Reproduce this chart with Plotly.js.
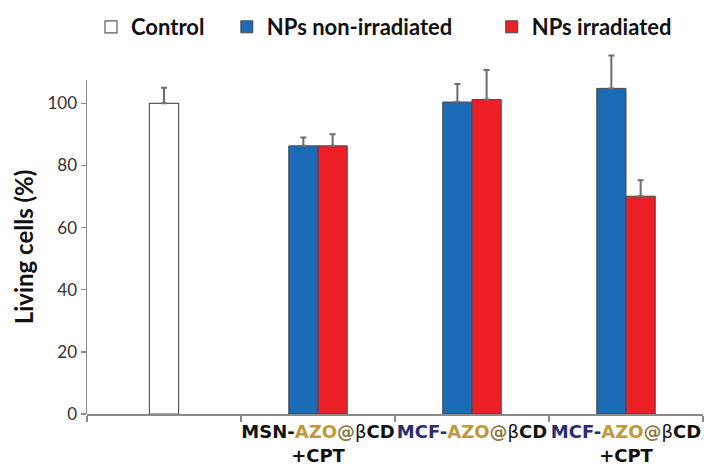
<!DOCTYPE html>
<html>
<head>
<meta charset="utf-8">
<script src="https://cdn.plot.ly/plotly-3.0.1.min.js"></script>
<style>html,body{margin:0;padding:0;background:#fff;}#chart{width:720px;height:468px;}</style>
</head>
<body>
<div id="chart"></div>
<script>
const categories = ['Control', 'MSN-AZO@βCD +CPT', 'MCF-AZO@βCD', 'MCF-AZO@βCD +CPT'];
const tickLabels = [
  '',
  '<b>MSN-<span style="color:#c09a3a">AZO</span><span style="color:#8c7a45">@</span></b>β<b>CD</b><br><b>+CPT</b>',
  '<b><span style="color:#2b2d6e">MCF-</span><span style="color:#c09a3a">AZO</span><span style="color:#8c7a45">@</span></b>β<b>CD</b>',
  '<b><span style="color:#2b2d6e">MCF-</span><span style="color:#c09a3a">AZO</span><span style="color:#8c7a45">@</span></b>β<b>CD</b><br><b>+CPT</b>'
];
const yTicks = [0, 20, 40, 60, 80, 100];
const controlCats = ['Control'];
const controlValues = [100];
const controlErrors = [5.0];
const npCats = ['MSN-AZO@βCD +CPT', 'MCF-AZO@βCD', 'MCF-AZO@βCD +CPT'];
const nonIrradiated = [86.3, 100.4, 104.8];
const nonIrradiatedErr = [2.7, 5.8, 10.6];
const irradiated = [86.3, 101.2, 70.1];
const irradiatedErr = [3.7, 9.5, 5.1];

const errStyle = {type: 'data', symmetric: false, color: '#6e6e6e', thickness: 2, width: 3};
const barW = 0.19;

// Control bar uses the visible axis (y2); the NP bars use a taller hidden axis (y)
// with identical scale so their error bars can rise above the axis end.
const traces = [
  {type: 'bar', name: 'Control', legend: 'legend', x: controlCats, y: controlValues, yaxis: 'y2',
   width: barW, offset: -barW/2, cliponaxis: false,
   marker: {color: '#ffffff', line: {color: '#5a5a5a', width: 1.2}},
   error_y: Object.assign({}, errStyle, {array: controlErrors, arrayminus: controlValues.map(() => 0)})},
  {type: 'bar', name: 'NPs non-irradiated', legend: 'legend2', x: npCats, y: nonIrradiated, width: barW, offset: -barW,
   cliponaxis: false,
   marker: {color: '#1b6bb6', line: {color: '#4a4a4a', width: 1}},
   error_y: Object.assign({}, errStyle, {array: nonIrradiatedErr, arrayminus: nonIrradiated.map(() => 0)})},
  {type: 'bar', name: 'NPs irradiated', legend: 'legend3', x: npCats, y: irradiated, width: barW, offset: 0,
   cliponaxis: false,
   marker: {color: '#ed1f26', line: {color: '#4a4a4a', width: 1}},
   error_y: Object.assign({}, errStyle, {array: irradiatedErr, arrayminus: irradiated.map(() => 0)})}
];

const plotTop = 50, plotBottom = 414, axisTop = 80;
const visibleMax = 107.5;
const pxPerUnit = (plotBottom - axisTop) / visibleMax;
const fullMax = (plotBottom - plotTop) / pxPerUnit;
const axisFrac = (plotBottom - axisTop) / (plotBottom - plotTop);
const legendY = (plotBottom - 27) / (plotBottom - plotTop);

const legendFont = {family: 'Lato, sans-serif', size: 22, color: '#111111', weight: 'bold'};
function legendAt(xp) {
  return {orientation: 'h', x: xp, y: legendY, xanchor: 'left', yanchor: 'middle',
          font: legendFont, bgcolor: 'rgba(0,0,0,0)'};
}

const layout = {
  width: 720, height: 468,
  margin: {l: 87, r: 17, t: plotTop, b: 468 - plotBottom, autoexpand: false},
  paper_bgcolor: '#ffffff', plot_bgcolor: 'rgba(0,0,0,0)',
  showlegend: true,
  barmode: 'overlay',
  legend: legendAt(0.0065),
  legend2: legendAt(0.227),
  legend3: legendAt(0.657),
  xaxis: {
    type: 'category', categoryorder: 'array', categoryarray: categories,
    tickvals: categories, ticktext: tickLabels, tickangle: 0,
    range: [-0.5, 3.5],
    showline: true, linecolor: '#8a8a8a', linewidth: 1.5,
    ticks: 'outside', tickson: 'boundaries', ticklen: 6, tickcolor: '#8a8a8a', tickwidth: 1.5,
    ticklabelstandoff: 1,
    showgrid: false, zeroline: false,
    tickfont: {family: 'DejaVu Sans, Liberation Sans, sans-serif', size: 18, color: '#111111'}
  },
  yaxis: {
    range: [0, fullMax], domain: [0, 1],
    showline: false, showticklabels: false, ticks: '', showgrid: false, zeroline: false
  },
  yaxis2: {
    anchor: 'x', domain: [0, axisFrac],
    range: [0, visibleMax], tickvals: yTicks,
    showline: true, linecolor: '#8a8a8a', linewidth: 1.5,
    ticks: 'outside', ticklen: 5, tickcolor: '#8a8a8a', tickwidth: 1.5,
    showgrid: false, zeroline: false,
    tickfont: {family: 'Lato, sans-serif', size: 17, color: '#333333'},
    title: {text: '<b>Living cells (%)</b>', font: {family: 'Lato, sans-serif', size: 24, color: '#111111'}, standoff: 7}
  }
};

Plotly.newPlot('chart', traces, layout, {displayModeBar: false, staticPlot: true});
</script>
</body>
</html>
